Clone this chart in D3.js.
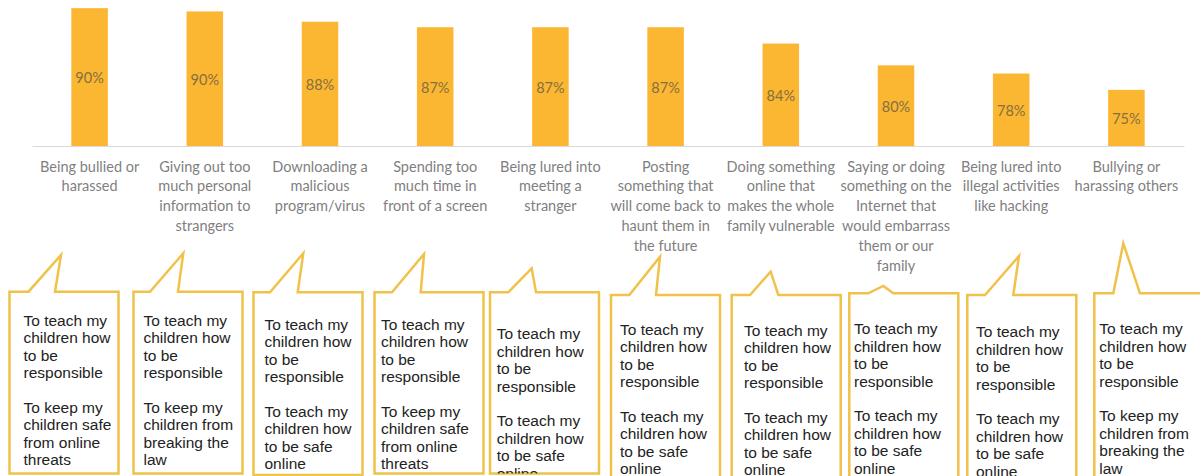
<!DOCTYPE html>
<html>
<head>
<meta charset="utf-8">
<script src="https://cdn.jsdelivr.net/npm/d3@7/dist/d3.min.js"></script>
<style>
  html, body { margin: 0; padding: 0; background: #ffffff; }
  svg { display: block; }
</style>
</head>
<body>
<svg id="chart" width="1200" height="476"></svg>
<script>
// ---------------- DATA ----------------
const categories = [
  "Being bullied or harassed",
  "Giving out too much personal information to strangers",
  "Downloading a malicious program/virus",
  "Spending too much time in front of a screen",
  "Being lured into meeting a stranger",
  "Posting something that will come back to haunt them in the future",
  "Doing something online that makes the whole family vulnerable",
  "Saying or doing something on the Internet that would embarrass them or our family",
  "Being lured into illegal activities like hacking",
  "Bullying or harassing others"
];
// share of parents (%), labels show rounded values
const values = [90.1, 89.5, 87.6, 86.6, 86.6, 86.6, 83.6, 79.6, 78.1, 75.1];

const tickLabels = [
  ["Being bullied or", "harassed"],
  ["Giving out too", "much personal", "information to", "strangers"],
  ["Downloading a", "malicious", "program/virus"],
  ["Spending too", "much time in", "front of a screen"],
  ["Being lured into", "meeting a", "stranger"],
  ["Posting", "something that", "will come back to", "haunt them in", "the future"],
  ["Doing something", "online that", "makes the whole", "family vulnerable"],
  ["Saying or doing", "something on the", "Internet that", "would embarrass", "them or our", "family"],
  ["Being lured into", "illegal activities", "like hacking"],
  ["Bullying or", "harassing others"]
];

const reasonResponsible = ["To teach my", "children how", "to be", "responsible"];
const reasonSafeThreats = ["To keep my", "children safe", "from online", "threats"];
const reasonLaw = ["To keep my", "children from", "breaking the", "law"];
const reasonSafeOnline = ["To teach my", "children how", "to be safe", "online"];
const secondReasons = [
  reasonSafeThreats, reasonLaw, reasonSafeOnline, reasonSafeThreats, reasonSafeOnline,
  reasonSafeOnline, reasonSafeOnline, reasonSafeOnline, reasonSafeOnline, reasonLaw
];

// ---------------- LAYOUT (callout annotation geometry) ----------------
// [left, top, spikeBaseLeft, spikeApexX, spikeApexY, spikeBaseRight, bottom, textX, firstBaseline]
const calloutLayout = [
  [9.5,   291.7, 28.5,  61,     255,   55,     473.5, 23.5,  326],
  [133.5, 291.7, 150,   183.3,  253.3, 178,    473.5, 143.5, 326],
  [253.5, 292.3, 270,   303.3,  253.3, 297.7,  475,   264.5, 330],
  [374.5, 292.3, 392,   424,    254,   420.7,  473.5, 381,   330],
  [490,   292.3, 508.3, 531.7,  268.3, 536,    473.5, 496.7, 339.3],
  [611,   295,   629.3, 660,    256.7, 656,    480,   620,   335],
  [731.7, 295,   750,   770.7,  271.7, 778.3,  480,   744,   336],
  [849.3, 293.3, 868.3, 883.3,  286,   893.3,  480,   854,   334.3],
  [967.3, 295,   985,   1019,   256,   1013.3, 480,   976,   337.3],
  [1094.3,293.3, 1113.3,1123.3, 243.3, 1140,   480,   1099.3,334.3]
];
const calloutWidth = 109;

// ---------------- CHART ----------------
const svg = d3.select("#chart");

const x = d3.scaleBand()
  .domain(categories)
  .range([32, 1184])
  .paddingInner(0.683)
  .paddingOuter(0.3415);

const y = d3.scaleLinear()
  .domain([64.8, 100])
  .range([146, -45.8]);

// bars
svg.append("g").selectAll("rect")
  .data(values)
  .join("rect")
  .attr("x", (d, i) => x(categories[i]))
  .attr("y", d => y(d))
  .attr("width", x.bandwidth())
  .attr("height", d => y.range()[0] - y(d))
  .attr("fill", "#FBB632");

// value labels
svg.append("g").selectAll("text")
  .data(values)
  .join("text")
  .attr("x", (d, i) => x(categories[i]) + x.bandwidth() / 2)
  .attr("y", d => (y(d) + y.range()[0]) / 2 + 6)
  .attr("text-anchor", "middle")
  .attr("font-family", "Lato, 'Open Sans', sans-serif")
  .attr("font-size", 14.5)
  .attr("fill", "#85703F")
  .text(d => d3.format(".0f")(d) + "%");

// x axis
const axis = d3.axisBottom(x).tickSize(0).tickSizeOuter(0).tickPadding(0)
  .tickFormat("");
const gx = svg.append("g")
  .attr("transform", `translate(0,${y.range()[0]})`)
  .call(axis);
gx.select(".domain").attr("stroke", "#D9D9D9").attr("stroke-width", 1);

gx.selectAll(".tick").each(function(d, i) {
  const t = d3.select(this).select("text");
  t.attr("y", 0).attr("dy", null)
    .attr("font-family", "Lato, 'Open Sans', sans-serif")
    .attr("font-size", 14.5)
    .attr("fill", "#7F7F7F")
    .attr("text-anchor", "middle");
  t.selectAll("tspan")
    .data(tickLabels[i])
    .join("tspan")
    .attr("x", 0)
    .attr("y", (s, j) => 25.5 + j * 19.8)
    .text(s => s);
});

// callouts
const defs = svg.append("defs");
const gc = svg.append("g");
calloutLayout.forEach((c, i) => {
  const [left, top, bl, ax, ay, br, bottom, tx, fb] = c;
  const right = left + calloutWidth;
  const p = d3.path();
  p.moveTo(left, bottom);
  p.lineTo(left, top);
  p.lineTo(bl, top);
  p.lineTo(ax, ay);
  p.lineTo(br, top);
  p.lineTo(right, top);
  p.lineTo(right, bottom);
  p.closePath();

  defs.append("clipPath").attr("id", "clip" + i)
    .append("rect")
    .attr("x", left).attr("y", top)
    .attr("width", calloutWidth).attr("height", bottom - top);

  gc.append("path")
    .attr("d", p.toString())
    .attr("fill", "#ffffff")
    .attr("stroke", "#F0C24A")
    .attr("stroke-width", 2.5)
    .attr("stroke-linejoin", "miter");

  const lines = reasonResponsible.concat([""], secondReasons[i]);
  const t = gc.append("text")
    .attr("clip-path", `url(#clip${i})`)
    .attr("font-family", "'Liberation Sans', Arial, sans-serif")
    .attr("font-size", 15.5)
    .attr("fill", "#222222");
  t.selectAll("tspan")
    .data(lines)
    .join("tspan")
    .attr("x", tx)
    .attr("y", (s, j) => fb + j * 17.4)
    .text(s => s);
});
</script>
</body>
</html>
